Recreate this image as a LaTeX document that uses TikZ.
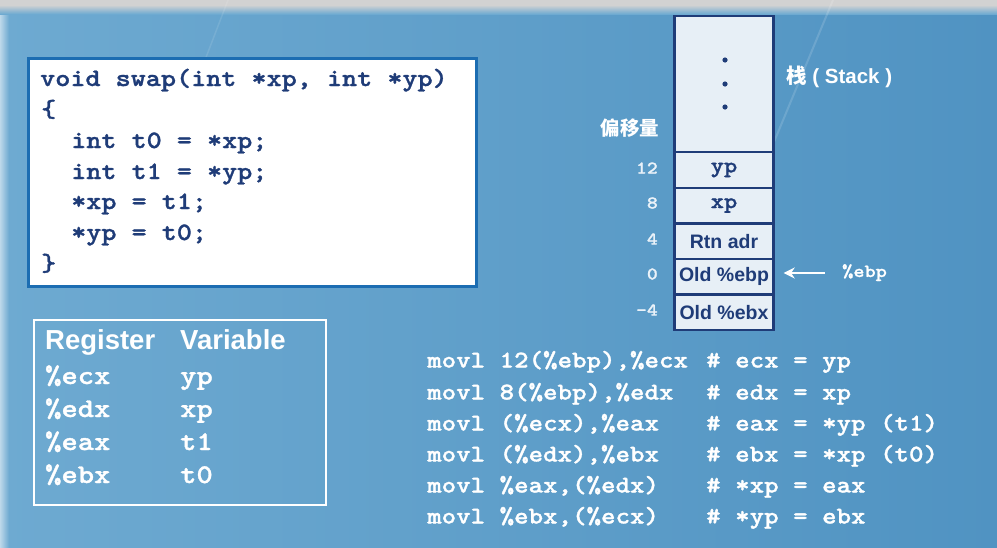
\documentclass[tikz,border=0pt]{standalone}
\usepackage{fontspec}
\setmainfont{Liberation Sans}
\newfontfamily\monofont{lmmonolt10-bold}[Extension=.otf, FakeStretch=1.15, FakeBold=1.2]
\newfontfamily\cjkfont{Noto Sans CJK SC}
\usetikzlibrary{arrows.meta}
\definecolor{navy}{HTML}{1F3C78}
\definecolor{codeframe}{HTML}{1C6DB2}
\definecolor{cellfill}{HTML}{E7EFF6}
\definecolor{bgleft}{HTML}{6EAAD1}
\definecolor{bgright}{HTML}{5093C2}
\definecolor{paleoff}{HTML}{EAF2F9}
\begin{document}
\begin{tikzpicture}[x=1pt,y=-1pt,
  codetxt/.style={font=\monofont\fontsize{25}{25}\selectfont, text=navy,
    anchor=west, inner sep=0pt, text height=17pt, text depth=5pt},
  regtxt/.style={font=\monofont\fontsize{27}{27}\selectfont, text=white,
    anchor=west, inner sep=0pt, text height=18pt, text depth=6pt},
  reghead/.style={font=\bfseries\fontsize{27.5}{27.5}\selectfont, text=white,
    anchor=west, inner sep=0pt, text height=20pt, text depth=6pt},
  asmtxt/.style={font=\monofont\fontsize{24}{24}\selectfont, text=white,
    anchor=west, inner sep=0pt, text height=16pt, text depth=5pt},
  cell/.style={draw=navy, line width=2.4pt, fill=cellfill, minimum width=99pt,
    minimum height=35.6pt, inner sep=0pt, text=navy},
  cellmono/.style={cell, font=\monofont\fontsize{22}{22}\selectfont},
  cellsans/.style={cell, font=\bfseries\fontsize{19.5}{19.5}\selectfont},
  offtxt/.style={font=\monofont\fontsize{18}{18}\selectfont, text=paleoff,
    anchor=east, inner sep=0pt},
  sidelabel/.style={font=\bfseries\fontsize{20.5}{20.5}\selectfont, text=white,
    inner sep=0pt}]
\useasboundingbox (0,0) rectangle (997,547);

% background
\shade[left color=bgleft, right color=bgright] (0,0) rectangle (997,547);
\shade[left color=white, right color=bgleft, opacity=0.55] (0,0) rectangle (9,547);
\fill[gray!35] (0,0) rectangle (997,5);
\shade[top color=gray!35, bottom color=bgleft] (0,5) rectangle (997,14);
\draw[white, opacity=0.14, line width=2pt] (833,0) -- (700,320);
\draw[white, opacity=0.10, line width=1.5pt] (228,0) -- (205,60);

% C source box
\node[draw=codeframe, line width=3pt, fill=white, minimum width=448pt,
  minimum height=228pt, inner sep=0pt, anchor=north west] (srcbox) at (27,57) {};
\node[codetxt] (src1) at (40,80)  {void swap(int *xp, int *yp)};
\node[codetxt] (src2) at (41,111) {\{};
\node[codetxt] (src3) at (71,142) {int t0 = *xp;};
\node[codetxt] (src4) at (71,173) {int t1 = *yp;};
\node[codetxt] (src5) at (71,203) {*xp = t1;};
\node[codetxt] (src6) at (71,234) {*yp = t0;};
\node[codetxt] (src7) at (41,265) {\}};

% register table
\node[draw=white, line width=2.2pt, minimum width=292pt, minimum height=185pt,
  inner sep=0pt, anchor=north west] (regbox) at (33,319) {};
\node[reghead] (hreg) at (45,342) {Register};
\node[reghead] (hvar) at (180,342) {Variable};
\node[regtxt] (r1) at (45,378) {\%ecx};
\node[regtxt] (v1) at (180,378) {yp};
\node[regtxt] (r2) at (45,411) {\%edx};
\node[regtxt] (v2) at (180,411) {xp};
\node[regtxt] (r3) at (45,444) {\%eax};
\node[regtxt] (v3) at (180,444) {t1};
\node[regtxt] (r4) at (45,477) {\%ebx};
\node[regtxt] (v4) at (180,477) {t0};

% stack frame
\node[cell, minimum height=136pt] (ctop) at (724,84) {};
\node[cellmono] (cyp)  at (724,170)   {yp};
\node[cellmono] (cxp)  at (724,205.6) {xp};
\node[cellsans] (crtn) at (724,241.2) {Rtn adr};
\node[cellsans] (cebp) at (724,276.8) {Old \%ebp};
\node[cellsans] (cebx) at (724,312.4) {Old \%ebx};
\fill[navy] (725,60) circle (2.6pt) (725,84) circle (2.6pt) (725,107) circle (2.6pt);

\node[sidelabel, anchor=west] (stk) at (786,77) {{\cjkfont 栈} ( Stack )};
\node[sidelabel, font=\cjkfont\bfseries\fontsize{19.5}{19.5}\selectfont] (offh) at (630,128) {偏移量};
\node[offtxt] (o12) at (658,168) {12};
\node[offtxt] (o8)  at (658,203) {8};
\node[offtxt] (o4)  at (658,239) {4};
\node[offtxt] (o0)  at (658,274) {0};
\node[offtxt] (om4) at (658,310) {-4};

\node[font=\monofont\fontsize{18.5}{18.5}\selectfont, text=white,
  anchor=west, inner sep=0pt, text height=12pt, text depth=4pt] (ebpreg) at (842,273) {\%ebp};
\draw[white, line width=2.6pt, -{Stealth[length=11pt,width=11pt]}]
  ([xshift=-17pt]ebpreg.west) -- ([xshift=9pt]ebpreg.west -| cebp.east);

% assembly listing
\node[asmtxt] (a1) at (427,362) {movl 12(\%ebp),\%ecx};
\node[asmtxt] (a2) at (427,394) {movl 8(\%ebp),\%edx};
\node[asmtxt] (a3) at (427,425) {movl (\%ecx),\%eax};
\node[asmtxt] (a4) at (427,456) {movl (\%edx),\%ebx};
\node[asmtxt] (a5) at (427,487) {movl \%eax,(\%edx)};
\node[asmtxt] (a6) at (427,518) {movl \%ebx,(\%ecx)};
\node[asmtxt] (k1) at (706,362) {\# ecx = yp};
\node[asmtxt] (k2) at (706,394) {\# edx = xp};
\node[asmtxt] (k3) at (706,425) {\# eax = *yp (t1)};
\node[asmtxt] (k4) at (706,456) {\# ebx = *xp (t0)};
\node[asmtxt] (k5) at (706,487) {\# *xp = eax};
\node[asmtxt] (k6) at (706,518) {\# *yp = ebx};
\end{tikzpicture}
\end{document}
